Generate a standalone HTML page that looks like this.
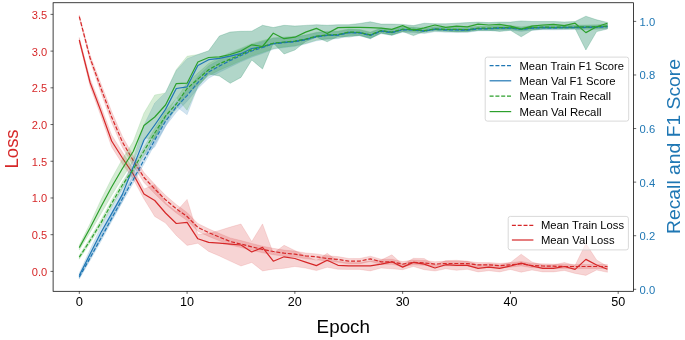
<!DOCTYPE html>
<html><head><meta charset="utf-8"><style>
html,body{margin:0;padding:0;background:#fff;}
svg{display:block;will-change:transform;font-family:"Liberation Sans", sans-serif;}
</style></head><body>
<svg width="685" height="340" viewBox="0 0 685 340">
<rect width="685" height="340" fill="#fff"/>
<defs><clipPath id="ax"><rect x="53.1" y="2.75" width="580.5" height="288.55"/></clipPath></defs>
<g clip-path="url(#ax)">
<path d="M79.30,15.10 L90.08,55.00 L100.86,83.50 L111.63,111.50 L122.41,136.50 L133.19,155.50 L143.97,172.50 L154.75,184.25 L165.52,195.30 L176.30,204.55 L187.08,212.50 L197.86,223.50 L208.64,228.80 L219.41,233.40 L230.19,237.90 L240.97,240.60 L251.75,243.40 L262.53,246.20 L273.30,248.30 L284.08,250.10 L294.86,251.10 L305.64,252.95 L316.42,253.90 L327.19,255.65 L337.97,256.60 L348.75,258.45 L359.53,258.50 L370.31,256.15 L381.08,259.20 L391.86,259.25 L402.64,261.60 L413.42,259.93 L424.20,260.45 L434.97,261.68 L445.75,261.11 L456.53,261.13 L467.31,261.26 L478.09,262.58 L488.86,262.61 L499.64,263.34 L510.42,262.66 L521.20,261.49 L531.98,263.42 L542.75,263.84 L553.53,264.07 L564.31,264.39 L575.09,264.42 L585.87,264.45 L596.64,264.47 L607.42,264.50 L607.42,268.50 L596.64,268.53 L585.87,268.55 L575.09,268.58 L564.31,268.61 L553.53,268.33 L542.75,268.16 L531.98,267.78 L521.20,265.91 L510.42,267.14 L499.64,267.86 L488.86,267.19 L478.09,267.22 L467.31,265.94 L456.53,265.87 L445.75,265.89 L434.97,266.52 L424.20,265.35 L413.42,264.87 L402.64,266.60 L391.86,264.35 L381.08,264.40 L370.31,261.45 L359.53,263.90 L348.75,263.95 L337.97,262.20 L327.19,261.35 L316.42,259.70 L305.64,258.85 L294.86,257.10 L284.08,256.30 L273.30,254.70 L262.53,252.80 L251.75,250.20 L240.97,247.60 L230.19,245.10 L219.41,240.80 L208.64,236.40 L197.86,231.30 L187.08,220.50 L176.30,213.05 L165.52,204.30 L154.75,193.75 L143.97,182.50 L133.19,165.50 L122.41,147.50 L111.63,122.50 L100.86,92.50 L90.08,61.00 L79.30,18.10 Z" fill="#d62728" fill-opacity="0.2" stroke="#d62728" stroke-opacity="0.2" stroke-width="0.6"/>
<path d="M79.30,37.50 L90.08,78.50 L100.86,106.00 L111.63,135.00 L122.41,152.00 L133.19,169.00 L143.97,189.00 L154.75,184.50 L165.52,203.00 L176.30,211.50 L187.08,199.40 L197.86,234.30 L208.64,233.40 L219.41,230.40 L230.19,227.10 L240.97,224.00 L251.75,241.50 L262.53,223.90 L273.30,253.20 L284.08,245.30 L294.86,250.50 L305.64,256.10 L316.42,260.60 L327.19,253.30 L337.97,261.30 L348.75,262.40 L359.53,262.40 L370.31,260.90 L381.08,260.10 L391.86,254.80 L402.64,264.50 L413.42,258.30 L424.20,258.50 L434.97,265.00 L445.75,260.60 L456.53,260.30 L467.31,261.30 L478.09,264.90 L488.86,263.70 L499.64,264.90 L510.42,262.50 L521.20,254.20 L531.98,262.00 L542.75,264.90 L553.53,264.90 L564.31,262.50 L575.09,265.40 L585.87,243.40 L596.64,260.00 L607.42,266.30 L607.42,272.30 L596.64,270.00 L585.87,275.40 L575.09,273.40 L564.31,270.50 L553.53,271.90 L542.75,271.90 L531.98,270.00 L521.20,272.20 L510.42,269.50 L499.64,271.90 L488.86,270.70 L478.09,271.90 L467.31,269.30 L456.53,270.30 L445.75,268.80 L434.97,271.00 L424.20,269.70 L413.42,266.50 L402.64,269.70 L391.86,268.80 L381.08,268.10 L370.31,270.90 L359.53,269.40 L348.75,269.40 L337.97,269.30 L327.19,267.30 L316.42,270.60 L305.64,268.10 L294.86,266.50 L284.08,268.30 L273.30,269.20 L262.53,270.90 L251.75,262.50 L240.97,266.00 L230.19,261.10 L219.41,256.00 L208.64,251.40 L197.86,243.30 L187.08,245.40 L176.30,235.50 L165.52,223.00 L154.75,216.50 L143.97,199.00 L133.19,179.00 L122.41,164.00 L111.63,147.00 L100.86,116.00 L90.08,86.50 L79.30,42.50 Z" fill="#d62728" fill-opacity="0.2" stroke="#d62728" stroke-opacity="0.2" stroke-width="0.6"/>
<path d="M79.30,16.60 L90.08,58.00 L100.86,88.00 L111.63,117.00 L122.41,142.00 L133.19,160.50 L143.97,177.50 L154.75,189.00 L165.52,199.80 L176.30,208.80 L187.08,216.50 L197.86,227.40 L208.64,232.60 L219.41,237.10 L230.19,241.50 L240.97,244.10 L251.75,246.80 L262.53,249.50 L273.30,251.50 L284.08,253.20 L294.86,254.10 L305.64,255.90 L316.42,256.80 L327.19,258.50 L337.97,259.40 L348.75,261.20 L359.53,261.20 L370.31,258.80 L381.08,261.80 L391.86,261.80 L402.64,264.10 L413.42,262.40 L424.20,262.90 L434.97,264.10 L445.75,263.50 L456.53,263.50 L467.31,263.60 L478.09,264.90 L488.86,264.90 L499.64,265.60 L510.42,264.90 L521.20,263.70 L531.98,265.60 L542.75,266.00 L553.53,266.20 L564.31,266.50 L575.09,266.50 L585.87,266.50 L596.64,266.50 L607.42,266.50" fill="none" stroke="#d62728" stroke-width="1.2" stroke-linejoin="round" stroke-linecap="butt" stroke-dasharray="4.0,1.8"/>
<path d="M79.30,40.00 L90.08,82.50 L100.86,111.00 L111.63,141.00 L122.41,158.00 L133.19,174.00 L143.97,194.00 L154.75,200.50 L165.52,213.00 L176.30,223.50 L187.08,222.40 L197.86,238.80 L208.64,242.40 L219.41,243.20 L230.19,244.10 L240.97,245.00 L251.75,252.00 L262.53,247.40 L273.30,261.20 L284.08,256.80 L294.86,258.50 L305.64,262.10 L316.42,265.60 L327.19,260.30 L337.97,265.30 L348.75,265.90 L359.53,265.90 L370.31,265.90 L381.08,264.10 L391.86,261.80 L402.64,267.10 L413.42,262.40 L424.20,264.10 L434.97,268.00 L445.75,264.70 L456.53,265.30 L467.31,265.30 L478.09,268.40 L488.86,267.20 L499.64,268.40 L510.42,266.00 L521.20,263.20 L531.98,266.00 L542.75,268.40 L553.53,268.40 L564.31,266.50 L575.09,269.40 L585.87,259.40 L596.64,265.00 L607.42,269.30" fill="none" stroke="#d62728" stroke-width="1.2" stroke-linejoin="round" stroke-linecap="butt"/>
</g>
<rect x="508.2" y="216.4" width="120.19999999999999" height="33.5" rx="2.2" ry="2.2" fill="#fff" fill-opacity="0.6" stroke="#cccccc" stroke-width="0.75"/>
<line x1="511.9" y1="225.4" x2="533.4" y2="225.4" stroke="#d62728" stroke-width="1.2" stroke-dasharray="4.0,1.8"/>
<text x="541.0" y="229.30" font-size="11.3" textLength="83.0" lengthAdjust="spacingAndGlyphs" fill="#000">Mean Train Loss</text>
<line x1="511.9" y1="240.0" x2="533.4" y2="240.0" stroke="#d62728" stroke-width="1.2"/>
<text x="541.0" y="243.90" font-size="11.3" textLength="73.5" lengthAdjust="spacingAndGlyphs" fill="#000">Mean Val Loss</text>
<g clip-path="url(#ax)">
<path d="M79.30,275.00 L90.08,255.40 L100.86,235.50 L111.63,215.23 L122.41,195.37 L133.19,176.20 L143.97,156.00 L154.75,135.50 L165.52,116.20 L176.30,101.67 L187.08,89.93 L197.86,76.60 L208.64,65.83 L219.41,59.67 L230.19,54.00 L240.97,49.17 L251.75,44.83 L262.53,41.50 L273.30,38.30 L284.08,37.60 L294.86,37.03 L305.64,35.37 L316.42,32.80 L327.19,31.75 L337.97,31.70 L348.75,29.45 L359.53,29.90 L370.31,32.62 L381.08,28.35 L391.86,30.07 L402.64,27.30 L413.42,27.55 L424.20,28.80 L434.97,27.05 L445.75,27.70 L456.53,27.75 L467.31,28.00 L478.09,26.65 L488.86,26.70 L499.64,26.15 L510.42,26.20 L521.20,27.40 L531.98,26.20 L542.75,25.70 L553.53,25.90 L564.31,25.60 L575.09,25.60 L585.87,25.50 L596.64,25.30 L607.42,24.70 L607.42,28.70 L596.64,29.30 L585.87,29.50 L575.09,29.60 L564.31,29.60 L553.53,29.90 L542.75,29.70 L531.98,30.20 L521.20,31.40 L510.42,30.20 L499.64,30.25 L488.86,30.90 L478.09,30.95 L467.31,32.40 L456.53,32.25 L445.75,32.30 L434.97,31.75 L424.20,33.60 L413.42,32.45 L402.64,32.30 L391.86,35.32 L381.08,33.85 L370.31,38.38 L359.53,35.90 L348.75,35.95 L337.97,38.70 L327.19,39.25 L316.42,40.80 L305.64,44.03 L294.86,46.37 L284.08,47.60 L273.30,49.30 L262.53,53.50 L251.75,57.17 L240.97,61.83 L230.19,67.00 L219.41,72.33 L208.64,78.17 L197.86,88.60 L187.08,101.27 L176.30,112.33 L165.52,126.20 L154.75,144.50 L143.97,164.00 L133.19,183.20 L122.41,202.03 L111.63,221.57 L100.86,241.50 L90.08,260.40 L79.30,279.00 Z" fill="#1f77b4" fill-opacity="0.2" stroke="#1f77b4" stroke-opacity="0.2" stroke-width="0.6"/>
<path d="M79.30,273.10 L90.08,249.50 L100.86,226.70 L111.63,207.10 L122.41,187.40 L133.19,159.00 L143.97,125.00 L154.75,103.00 L165.52,92.40 L176.30,70.50 L187.08,58.80 L197.86,54.50 L208.64,50.80 L219.41,36.00 L230.19,32.00 L240.97,31.30 L251.75,31.20 L262.53,25.30 L273.30,27.50 L284.08,25.30 L294.86,26.00 L305.64,25.40 L316.42,24.70 L327.19,25.30 L337.97,24.70 L348.75,24.70 L359.53,23.50 L370.31,21.80 L381.08,24.10 L391.86,24.10 L402.64,24.40 L413.42,25.60 L424.20,23.20 L434.97,23.80 L445.75,23.80 L456.53,23.20 L467.31,22.60 L478.09,22.10 L488.86,22.60 L499.64,22.10 L510.42,22.10 L521.20,20.90 L531.98,21.50 L542.75,21.50 L553.53,21.50 L564.31,22.00 L575.09,21.50 L585.87,16.20 L596.64,19.80 L607.42,22.40 L607.42,29.00 L596.64,31.60 L585.87,50.00 L575.09,28.50 L564.31,29.00 L553.53,28.50 L542.75,29.10 L531.98,30.30 L521.20,36.80 L510.42,30.30 L499.64,31.50 L488.86,30.30 L478.09,30.30 L467.31,31.50 L456.53,32.10 L445.75,30.90 L434.97,30.30 L424.20,31.50 L413.42,35.60 L402.64,31.50 L391.86,35.30 L381.08,32.90 L370.31,38.80 L359.53,35.30 L348.75,37.10 L337.97,36.50 L327.19,41.80 L316.42,37.20 L305.64,41.60 L294.86,50.00 L284.08,54.00 L273.30,43.00 L262.53,69.00 L251.75,60.00 L240.97,77.40 L230.19,83.30 L219.41,76.00 L208.64,74.00 L197.86,86.80 L187.08,114.80 L176.30,106.50 L165.52,126.40 L154.75,147.00 L143.97,155.00 L133.19,175.00 L122.41,201.40 L111.63,220.10 L100.86,238.70 L90.08,258.50 L79.30,278.10 Z" fill="#1f77b4" fill-opacity="0.2" stroke="#1f77b4" stroke-opacity="0.2" stroke-width="0.6"/>
<path d="M79.30,255.20 L90.08,238.00 L100.86,220.00 L111.63,200.33 L122.41,181.67 L133.19,165.90 L143.97,147.00 L154.75,128.50 L165.52,111.00 L176.30,98.67 L187.08,82.83 L197.86,73.10 L208.64,63.53 L219.41,57.47 L230.19,52.60 L240.97,48.17 L251.75,43.73 L262.53,40.50 L273.30,37.70 L284.08,37.00 L294.86,36.43 L305.64,34.77 L316.42,32.20 L327.19,31.15 L337.97,31.10 L348.75,28.85 L359.53,29.30 L370.31,32.03 L381.08,27.75 L391.86,29.48 L402.64,26.70 L413.42,26.95 L424.20,28.20 L434.97,26.45 L445.75,27.10 L456.53,27.15 L467.31,27.40 L478.09,26.05 L488.86,26.10 L499.64,25.55 L510.42,25.60 L521.20,26.80 L531.98,25.60 L542.75,25.10 L553.53,25.30 L564.31,25.00 L575.09,25.00 L585.87,24.90 L596.64,24.70 L607.42,24.10 L607.42,28.10 L596.64,28.70 L585.87,28.90 L575.09,29.00 L564.31,29.00 L553.53,29.30 L542.75,29.10 L531.98,29.60 L521.20,30.80 L510.42,29.60 L499.64,29.65 L488.86,30.30 L478.09,30.35 L467.31,31.80 L456.53,31.65 L445.75,31.70 L434.97,31.15 L424.20,33.00 L413.42,31.85 L402.64,31.70 L391.86,34.73 L381.08,33.25 L370.31,37.78 L359.53,35.30 L348.75,35.35 L337.97,38.10 L327.19,38.65 L316.42,40.20 L305.64,43.43 L294.86,45.77 L284.08,47.00 L273.30,48.70 L262.53,52.50 L251.75,56.07 L240.97,60.83 L230.19,65.60 L219.41,70.13 L208.64,75.87 L197.86,85.10 L187.08,94.17 L176.30,109.33 L165.52,121.00 L154.75,137.50 L143.97,155.00 L133.19,172.90 L122.41,188.33 L111.63,206.67 L100.86,226.00 L90.08,243.00 L79.30,259.20 Z" fill="#2ca02c" fill-opacity="0.2" stroke="#2ca02c" stroke-opacity="0.2" stroke-width="0.6"/>
<path d="M79.30,245.10 L90.08,223.50 L100.86,200.00 L111.63,178.50 L122.41,159.00 L133.19,141.50 L143.97,113.00 L154.75,95.00 L165.52,93.00 L176.30,69.60 L187.08,56.20 L197.86,54.50 L208.64,50.80 L219.41,36.00 L230.19,32.00 L240.97,31.30 L251.75,31.20 L262.53,25.30 L273.30,27.50 L284.08,25.30 L294.86,26.00 L305.64,25.40 L316.42,24.70 L327.19,25.30 L337.97,24.70 L348.75,24.70 L359.53,23.50 L370.31,21.80 L381.08,24.10 L391.86,24.10 L402.64,24.40 L413.42,25.60 L424.20,23.20 L434.97,23.80 L445.75,23.80 L456.53,23.20 L467.31,22.60 L478.09,22.10 L488.86,22.60 L499.64,22.10 L510.42,22.10 L521.20,20.90 L531.98,21.50 L542.75,21.50 L553.53,21.50 L564.31,22.00 L575.09,21.50 L585.87,16.20 L596.64,19.80 L607.42,22.40 L607.42,29.00 L596.64,31.60 L585.87,50.00 L575.09,28.50 L564.31,29.00 L553.53,28.50 L542.75,29.10 L531.98,30.30 L521.20,36.80 L510.42,30.30 L499.64,31.50 L488.86,30.30 L478.09,30.30 L467.31,31.50 L456.53,32.10 L445.75,30.90 L434.97,30.30 L424.20,31.50 L413.42,35.60 L402.64,31.50 L391.86,35.30 L381.08,32.90 L370.31,38.80 L359.53,35.30 L348.75,37.10 L337.97,36.50 L327.19,41.80 L316.42,37.20 L305.64,41.60 L294.86,50.00 L284.08,54.00 L273.30,43.00 L262.53,69.00 L251.75,60.00 L240.97,77.40 L230.19,83.30 L219.41,76.00 L208.64,74.00 L197.86,86.80 L187.08,110.20 L176.30,97.60 L165.52,117.00 L154.75,139.00 L143.97,138.00 L133.19,161.50 L122.41,178.00 L111.63,195.50 L100.86,214.00 L90.08,232.50 L79.30,250.10 Z" fill="#2ca02c" fill-opacity="0.2" stroke="#2ca02c" stroke-opacity="0.2" stroke-width="0.6"/>
<path d="M79.30,277.00 L90.08,257.90 L100.86,238.50 L111.63,218.40 L122.41,198.70 L133.19,179.70 L143.97,160.00 L154.75,140.00 L165.52,121.20 L176.30,107.00 L187.08,95.60 L197.86,82.60 L208.64,72.00 L219.41,66.00 L230.19,60.50 L240.97,55.50 L251.75,51.00 L262.53,47.50 L273.30,43.80 L284.08,42.60 L294.86,41.70 L305.64,39.70 L316.42,36.80 L327.19,35.50 L337.97,35.20 L348.75,32.70 L359.53,32.90 L370.31,35.50 L381.08,31.10 L391.86,32.70 L402.64,29.80 L413.42,30.00 L424.20,31.20 L434.97,29.40 L445.75,30.00 L456.53,30.00 L467.31,30.20 L478.09,28.80 L488.86,28.80 L499.64,28.20 L510.42,28.20 L521.20,29.40 L531.98,28.20 L542.75,27.70 L553.53,27.90 L564.31,27.60 L575.09,27.60 L585.87,27.50 L596.64,27.30 L607.42,26.70" fill="none" stroke="#1f77b4" stroke-width="1.2" stroke-linejoin="round" stroke-linecap="butt" stroke-dasharray="4.0,1.8"/>
<path d="M79.30,275.60 L90.08,254.00 L100.86,232.70 L111.63,213.60 L122.41,194.40 L133.19,167.00 L143.97,140.00 L154.75,125.00 L165.52,109.40 L176.30,88.50 L187.08,86.80 L197.86,65.50 L208.64,59.70 L219.41,58.30 L230.19,56.20 L240.97,53.70 L251.75,48.50 L262.53,47.00 L273.30,43.50 L284.08,42.30 L294.86,41.40 L305.64,39.40 L316.42,36.50 L327.19,35.20 L337.97,34.90 L348.75,32.40 L359.53,32.60 L370.31,35.20 L381.08,30.80 L391.86,32.40 L402.64,29.50 L413.42,29.70 L424.20,30.90 L434.97,29.10 L445.75,29.70 L456.53,29.70 L467.31,29.90 L478.09,28.50 L488.86,28.50 L499.64,27.90 L510.42,27.90 L521.20,29.10 L531.98,27.90 L542.75,27.40 L553.53,27.60 L564.31,27.30 L575.09,27.30 L585.87,27.20 L596.64,27.00 L607.42,26.40" fill="none" stroke="#1f77b4" stroke-width="1.2" stroke-linejoin="round" stroke-linecap="butt"/>
<path d="M79.30,257.20 L90.08,240.50 L100.86,223.00 L111.63,203.50 L122.41,185.00 L133.19,169.40 L143.97,151.00 L154.75,133.00 L165.52,116.00 L176.30,104.00 L187.08,88.50 L197.86,79.10 L208.64,69.70 L219.41,63.80 L230.19,59.10 L240.97,54.50 L251.75,49.90 L262.53,46.50 L273.30,43.20 L284.08,42.00 L294.86,41.10 L305.64,39.10 L316.42,36.20 L327.19,34.90 L337.97,34.60 L348.75,32.10 L359.53,32.30 L370.31,34.90 L381.08,30.50 L391.86,32.10 L402.64,29.20 L413.42,29.40 L424.20,30.60 L434.97,28.80 L445.75,29.40 L456.53,29.40 L467.31,29.60 L478.09,28.20 L488.86,28.20 L499.64,27.60 L510.42,27.60 L521.20,28.80 L531.98,27.60 L542.75,27.10 L553.53,27.30 L564.31,27.00 L575.09,27.00 L585.87,26.90 L596.64,26.70 L607.42,26.10" fill="none" stroke="#2ca02c" stroke-width="1.2" stroke-linejoin="round" stroke-linecap="butt" stroke-dasharray="4.0,1.8"/>
<path d="M79.30,247.60 L90.08,228.00 L100.86,207.00 L111.63,187.00 L122.41,168.50 L133.19,151.50 L143.97,125.50 L154.75,117.00 L165.52,105.00 L176.30,83.60 L187.08,83.20 L197.86,62.00 L208.64,57.50 L219.41,56.80 L230.19,54.50 L240.97,51.00 L251.75,44.80 L262.53,46.50 L273.30,33.20 L284.08,38.70 L294.86,37.20 L305.64,32.10 L316.42,28.40 L327.19,33.50 L337.97,27.60 L348.75,27.40 L359.53,27.40 L370.31,27.60 L381.08,28.20 L391.86,29.40 L402.64,25.60 L413.42,30.30 L424.20,27.90 L434.97,25.00 L445.75,27.40 L456.53,26.20 L467.31,26.80 L478.09,24.10 L488.86,25.00 L499.64,24.40 L510.42,26.20 L521.20,29.10 L531.98,26.20 L542.75,25.00 L553.53,24.40 L564.31,25.60 L575.09,23.20 L585.87,32.60 L596.64,26.80 L607.42,23.20" fill="none" stroke="#2ca02c" stroke-width="1.2" stroke-linejoin="round" stroke-linecap="butt"/>
</g>
<rect x="53.1" y="2.75" width="580.5" height="288.55" fill="none" stroke="#000" stroke-width="0.75"/>
<line x1="50.5" y1="271.40" x2="53.1" y2="271.40" stroke="#000" stroke-width="0.6"/>
<text x="47.2" y="275.90" text-anchor="end" font-size="11.1" fill="#d62728" textLength="15.4" lengthAdjust="spacingAndGlyphs">0.0</text>
<line x1="50.5" y1="234.68" x2="53.1" y2="234.68" stroke="#000" stroke-width="0.6"/>
<text x="47.2" y="239.18" text-anchor="end" font-size="11.1" fill="#d62728" textLength="15.4" lengthAdjust="spacingAndGlyphs">0.5</text>
<line x1="50.5" y1="197.97" x2="53.1" y2="197.97" stroke="#000" stroke-width="0.6"/>
<text x="47.2" y="202.47" text-anchor="end" font-size="11.1" fill="#d62728" textLength="15.4" lengthAdjust="spacingAndGlyphs">1.0</text>
<line x1="50.5" y1="161.25" x2="53.1" y2="161.25" stroke="#000" stroke-width="0.6"/>
<text x="47.2" y="165.75" text-anchor="end" font-size="11.1" fill="#d62728" textLength="15.4" lengthAdjust="spacingAndGlyphs">1.5</text>
<line x1="50.5" y1="124.54" x2="53.1" y2="124.54" stroke="#000" stroke-width="0.6"/>
<text x="47.2" y="129.04" text-anchor="end" font-size="11.1" fill="#d62728" textLength="15.4" lengthAdjust="spacingAndGlyphs">2.0</text>
<line x1="50.5" y1="87.82" x2="53.1" y2="87.82" stroke="#000" stroke-width="0.6"/>
<text x="47.2" y="92.32" text-anchor="end" font-size="11.1" fill="#d62728" textLength="15.4" lengthAdjust="spacingAndGlyphs">2.5</text>
<line x1="50.5" y1="51.11" x2="53.1" y2="51.11" stroke="#000" stroke-width="0.6"/>
<text x="47.2" y="55.61" text-anchor="end" font-size="11.1" fill="#d62728" textLength="15.4" lengthAdjust="spacingAndGlyphs">3.0</text>
<line x1="50.5" y1="14.39" x2="53.1" y2="14.39" stroke="#000" stroke-width="0.6"/>
<text x="47.2" y="18.89" text-anchor="end" font-size="11.1" fill="#d62728" textLength="15.4" lengthAdjust="spacingAndGlyphs">3.5</text>
<line x1="633.6" y1="289.30" x2="636.2" y2="289.30" stroke="#000" stroke-width="0.6"/>
<text x="639.6" y="293.80" font-size="11.1" fill="#1f77b4" textLength="15.6" lengthAdjust="spacingAndGlyphs">0.0</text>
<line x1="633.6" y1="235.72" x2="636.2" y2="235.72" stroke="#000" stroke-width="0.6"/>
<text x="639.6" y="240.22" font-size="11.1" fill="#1f77b4" textLength="15.6" lengthAdjust="spacingAndGlyphs">0.2</text>
<line x1="633.6" y1="182.14" x2="636.2" y2="182.14" stroke="#000" stroke-width="0.6"/>
<text x="639.6" y="186.64" font-size="11.1" fill="#1f77b4" textLength="15.6" lengthAdjust="spacingAndGlyphs">0.4</text>
<line x1="633.6" y1="128.56" x2="636.2" y2="128.56" stroke="#000" stroke-width="0.6"/>
<text x="639.6" y="133.06" font-size="11.1" fill="#1f77b4" textLength="15.6" lengthAdjust="spacingAndGlyphs">0.6</text>
<line x1="633.6" y1="74.98" x2="636.2" y2="74.98" stroke="#000" stroke-width="0.6"/>
<text x="639.6" y="79.48" font-size="11.1" fill="#1f77b4" textLength="15.6" lengthAdjust="spacingAndGlyphs">0.8</text>
<line x1="633.6" y1="21.40" x2="636.2" y2="21.40" stroke="#000" stroke-width="0.6"/>
<text x="639.6" y="25.90" font-size="11.1" fill="#1f77b4" textLength="15.6" lengthAdjust="spacingAndGlyphs">1.0</text>
<line x1="79.30" y1="291.3" x2="79.30" y2="293.90000000000003" stroke="#000" stroke-width="0.6"/>
<text x="79.30" y="305.8" text-anchor="middle" font-size="13.2" fill="#000" textLength="7.2" lengthAdjust="spacingAndGlyphs">0</text>
<line x1="187.08" y1="291.3" x2="187.08" y2="293.90000000000003" stroke="#000" stroke-width="0.6"/>
<text x="187.08" y="305.8" text-anchor="middle" font-size="13.2" fill="#000" textLength="14.0" lengthAdjust="spacingAndGlyphs">10</text>
<line x1="294.86" y1="291.3" x2="294.86" y2="293.90000000000003" stroke="#000" stroke-width="0.6"/>
<text x="294.86" y="305.8" text-anchor="middle" font-size="13.2" fill="#000" textLength="14.0" lengthAdjust="spacingAndGlyphs">20</text>
<line x1="402.64" y1="291.3" x2="402.64" y2="293.90000000000003" stroke="#000" stroke-width="0.6"/>
<text x="402.64" y="305.8" text-anchor="middle" font-size="13.2" fill="#000" textLength="14.0" lengthAdjust="spacingAndGlyphs">30</text>
<line x1="510.42" y1="291.3" x2="510.42" y2="293.90000000000003" stroke="#000" stroke-width="0.6"/>
<text x="510.42" y="305.8" text-anchor="middle" font-size="13.2" fill="#000" textLength="14.0" lengthAdjust="spacingAndGlyphs">40</text>
<line x1="618.20" y1="291.3" x2="618.20" y2="293.90000000000003" stroke="#000" stroke-width="0.6"/>
<text x="618.20" y="305.8" text-anchor="middle" font-size="13.2" fill="#000" textLength="14.0" lengthAdjust="spacingAndGlyphs">50</text>
<text x="343.3" y="333" text-anchor="middle" font-size="19" fill="#000" textLength="53.4" lengthAdjust="spacingAndGlyphs">Epoch</text>
<text transform="translate(18.4,148.9) rotate(-90)" text-anchor="middle" font-size="19" fill="#d62728" textLength="39" lengthAdjust="spacingAndGlyphs">Loss</text>
<text transform="translate(680.4,146.5) rotate(-90)" text-anchor="middle" font-size="19" fill="#1f77b4" textLength="175" lengthAdjust="spacingAndGlyphs">Recall and F1 Score</text>
<rect x="485.2" y="57.1" width="143.50000000000006" height="63.99999999999999" rx="2.2" ry="2.2" fill="#fff" fill-opacity="0.8" stroke="#cccccc" stroke-width="0.75"/>
<line x1="489.6" y1="65.6" x2="511.2" y2="65.6" stroke="#1f77b4" stroke-width="1.2" stroke-dasharray="4.0,1.8"/>
<text x="519.5" y="69.50" font-size="11.3" textLength="104.5" lengthAdjust="spacingAndGlyphs" fill="#000">Mean Train F1 Score</text>
<line x1="489.6" y1="80.8" x2="511.2" y2="80.8" stroke="#1f77b4" stroke-width="1.2"/>
<text x="519.5" y="84.70" font-size="11.3" textLength="96.0" lengthAdjust="spacingAndGlyphs" fill="#000">Mean Val F1 Score</text>
<line x1="489.6" y1="96.2" x2="511.2" y2="96.2" stroke="#2ca02c" stroke-width="1.2" stroke-dasharray="4.0,1.8"/>
<text x="519.5" y="100.10" font-size="11.3" textLength="91.4" lengthAdjust="spacingAndGlyphs" fill="#000">Mean Train Recall</text>
<line x1="489.6" y1="111.6" x2="511.2" y2="111.6" stroke="#2ca02c" stroke-width="1.2"/>
<text x="519.5" y="115.50" font-size="11.3" textLength="82.0" lengthAdjust="spacingAndGlyphs" fill="#000">Mean Val Recall</text>
</svg>
</body></html>
